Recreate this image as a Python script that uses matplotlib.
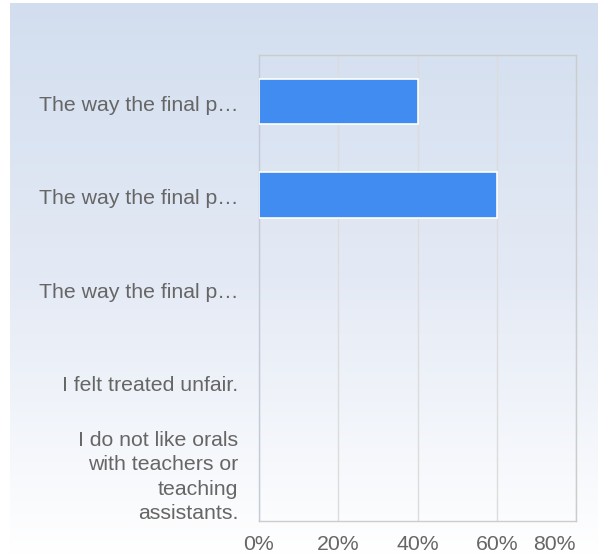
import numpy as np
import matplotlib
matplotlib.use("Agg")
import matplotlib.pyplot as plt
import matplotlib.transforms as mtransforms
from matplotlib.colors import LinearSegmentedColormap

categories = [
    "The way the final p…",
    "The way the final p…",
    "The way the final p…",
    "I felt treated unfair.",
    "I do not like orals\nwith teachers or\nteaching\nassistants.",
]
values = [0.40, 0.60, 0.0, 0.0, 0.0]
xticks = [0, 0.2, 0.4, 0.6, 0.8]
xticklabels = ["0%", "20%", "40%", "60%", "80%"]

W, H = 598, 555
fig = plt.figure(figsize=(W / 100, H / 100), dpi=100)
fig.patch.set_facecolor("white")

# gradient background
bg = fig.add_axes([10 / W, 0, 1 - 10 / W, 1 - 3 / H], zorder=0)
cmap = LinearSegmentedColormap.from_list("g", ["#d2deef", "#e4eaf5", "#ffffff"])
grad = np.linspace(0, 1, 256).reshape(-1, 1)
bg.imshow(grad, aspect="auto", cmap=cmap, extent=[0, 1, 0, 1], origin="upper")
bg.set_axis_off()

x0, x1 = 259, 576
y0, y1 = 55, 521
ax = fig.add_axes([x0 / W, 1 - y1 / H, (x1 - x0) / W, (y1 - y0) / H], zorder=1)
ax.patch.set_alpha(0)

y = np.arange(len(categories))
lw = [1.2 if v > 0 else 0 for v in values]
ax.barh(y, values, height=0.49, color="#418cf0", edgecolor="white", linewidth=lw, zorder=3)
ax.set_xlim(0, 0.8)
ax.set_ylim(len(categories) - 0.5, -0.5)
ax.set_xticks(xticks)
ax.set_xticklabels(xticklabels)
ax.set_yticks(y)
ax.set_yticklabels(categories, ha="right", multialignment="right", linespacing=1.35)
ax.grid(axis="x", color="#dcdcdc", linewidth=1, zorder=0)
ax.tick_params(length=0, labelsize=15.3, labelcolor="#666666")
ax.tick_params(axis="y", pad=15)
ax.tick_params(axis="x", pad=10)
for lbl in ax.get_xticklabels() + ax.get_yticklabels():
    lbl.set_fontfamily(["Liberation Sans", "DejaVu Sans"])
ax.get_xticklabels()[-1].set_ha("right")

ylabels = ax.get_yticklabels()
for i, lbl in enumerate(ylabels):
    dy = -2 if i < len(ylabels) - 1 else 2
    lbl.set_transform(lbl.get_transform() + mtransforms.ScaledTranslation(0, dy / 100, fig.dpi_scale_trans))

for s in ax.spines.values():
    s.set_color("#cccccc")
    s.set_linewidth(1)
ax.spines["left"].set_color("#c4cbd8")

fig.savefig("out.png", dpi=100)
